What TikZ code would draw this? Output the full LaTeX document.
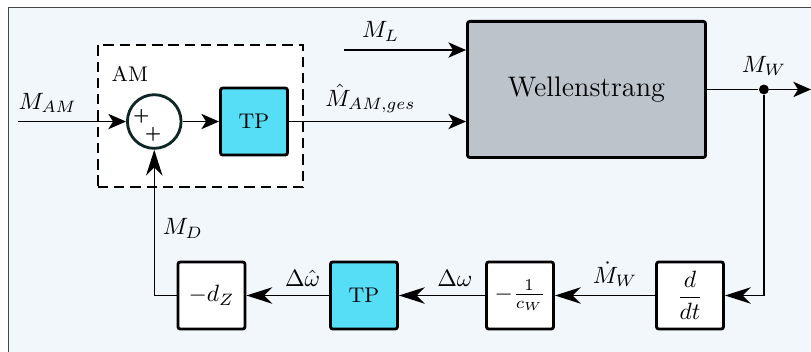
\documentclass[tikz,border=0pt]{standalone}
\usepackage{amsmath}
\usepackage{xcolor}
\usepackage{tikz}
\usetikzlibrary{arrows.meta,positioning}
\definecolor{tpcyan}{RGB}{85,222,245}
\definecolor{wsgray}{RGB}{188,195,203}
\definecolor{bgblue}{RGB}{242,247,252}
\definecolor{framegray}{RGB}{70,70,70}
\definecolor{sumdark}{RGB}{15,38,38}

\begin{document}
\begin{tikzpicture}[
    blk/.style={draw, very thick, rounded corners=1pt, minimum size=1cm, inner sep=2pt, fill=white},
    tpblk/.style={blk, fill=tpcyan, font=\small},
    sumnode/.style={circle, draw=sumdark, very thick, minimum size=0.8cm, fill=white},
    amframe/.style={draw, semithick, dash pattern=on 4.4pt off 2.5pt, fill=white, minimum width=3.06cm, minimum height=2.12cm},
    dot/.style={circle, fill, inner sep=0pt, minimum size=4.2pt},
    arr/.style={-{Stealth[length=7.5pt, width=6.5pt, inset=2pt]}, semithick},
    farr/.style={-{Stealth[length=11pt, width=7pt, inset=3.5pt]}, semithick}
]
\useasboundingbox (0,0) rectangle (12.092,-5.248);
\fill[bgblue] (0.127,-0.112) rectangle (12.4,-5.5);
\draw[framegray, line width=0.8pt] (0.127,-5.5) |- (12.4,-0.112);

\node[amframe] (am) at (2.989,-1.730) {};
\node[font=\small] (amlbl) at (1.937,-1.103) {AM};
\node[sumnode] (sum) at (2.300,-1.812) {};
\node[font=\scriptsize\bfseries, inner sep=0pt] (p1) at ([shift={(-0.19,0.07)}]sum.center) {+};
\node[font=\scriptsize\bfseries, inner sep=0pt] (p2) at ([shift={(-0.015,-0.19)}]sum.center) {+};
\node[tpblk] (tp1) at (3.787,-1.812) {TP};
\node[blk, fill=wsgray, font=\large, minimum width=3.55cm, minimum height=2.03cm] (ws) at (8.745,-1.334) {\raisebox{2pt}{Wellenstrang}};
\node[dot] (br) at (11.39,-1.334) {};
\node[above=0pt of br] (mw) {$M_W$};

\node[blk] (ddt) at (10.288,-4.406) {$\dfrac{d}{dt}$};
\node[blk] (cw) at (7.753,-4.406) {$-\frac{1}{c_W}$};
\node[tpblk] (tp2) at (5.427,-4.406) {TP};
\node[blk] (dz) at (3.153,-4.406) {$-d_Z$};

\coordinate (in) at (0.268,-1.812);
\coordinate (mlin) at (5.129,-0.746);
\coordinate (out) at (12.092,-1.334);

\draw[arr] (in) -- node[above right, pos=0, inner xsep=0pt] {$M_{AM}$} (sum);
\draw[arr] (sum) -- (tp1);
\draw[arr] (tp1.east) -- node[above, pos=0.46] {$\hat{M}_{AM,ges}$} (tp1.east -| ws.west);
\draw[arr] (mlin) -- node[above, pos=0.3] {$M_L$} (mlin -| ws.west);
\draw[semithick] (ws.east) -- (br);
\draw[arr] (br) -- (out);
\draw[farr] (br) |- (ddt);
\draw[farr] (ddt) -- node[above, pos=0.4] {$\dot{M}_W$} (cw);
\draw[farr] (cw) -- node[above, pos=0.35] {$\Delta\omega$} (tp2);
\draw[farr] (tp2) -- node[above, pos=0.32] {$\Delta\hat{\omega}$} (dz);
\draw[farr] (dz.west) -| node[right, pos=0.73] {$M_D$} (sum.south);
\end{tikzpicture}
\end{document}
